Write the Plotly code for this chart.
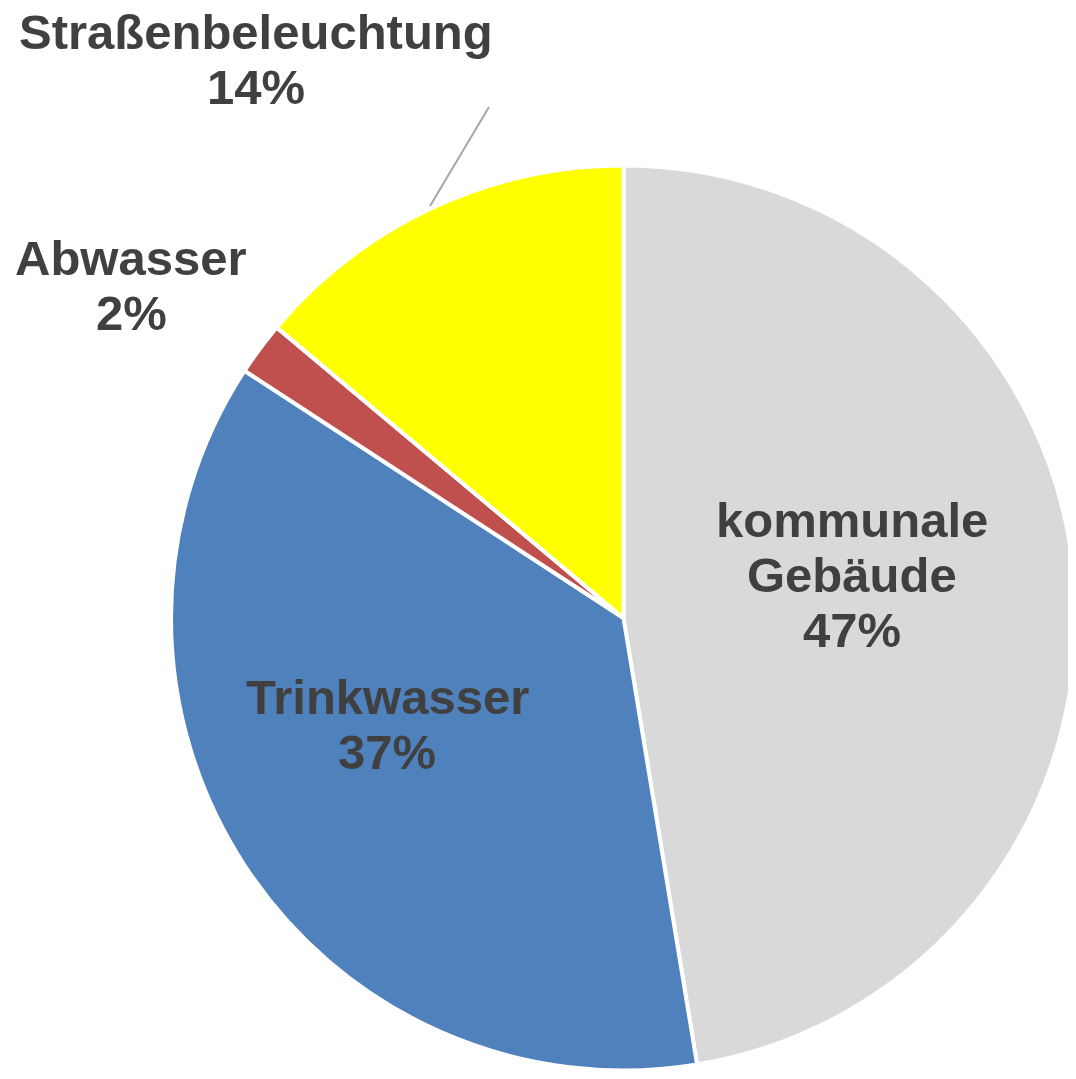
import plotly.graph_objects as go

labels = ["kommunale Gebäude", "Trinkwasser", "Abwasser", "Straßenbeleuchtung"]
label_lines = [["kommunale", "Gebäude"], ["Trinkwasser"], ["Abwasser"], ["Straßenbeleuchtung"]]
values = [47.4, 36.8, 1.9, 13.9]
colors = ["#d9d9d9", "#4f81bd", "#c0504d", "#ffff00"]

# page body has an 8px default margin; keep figure inside the viewport
OFF = 8
W, H = 1068, 1063
total = sum(values)
pcts = [f"{round(v / total * 100):d}%" for v in values]


def px(x):
    return (x - OFF) / W


def py(y):
    return 1 - (y - OFF) / H


fig = go.Figure(go.Pie(
    labels=labels,
    values=values,
    sort=False,
    direction="clockwise",
    rotation=0,
    textinfo="none",
    hoverinfo="label+percent",
    marker=dict(colors=colors, line=dict(color="white", width=4)),
    domain=dict(x=[px(171), 1.0], y=[0.0, py(165)]),
    showlegend=False,
))

# label anchor (center x, first-line cap-middle y) in screen pixels, line spacing
label_pos = [(852, 520), (387, 697), (131, 258), (256, 32)]
line_gap = 55

annotations = []
for lines, pct, (cx, cy) in zip(label_lines, pcts, label_pos):
    for i, t in enumerate(lines + [pct]):
        annotations.append(dict(
            x=px(cx), y=py(cy + i * line_gap),
            xref="paper", yref="paper",
            text=t, showarrow=False,
            xanchor="center", yanchor="middle",
            font=dict(family="Liberation Sans, Arial, sans-serif", size=49,
                      color="#404040", weight="bold"),
        ))

fig.update_layout(
    width=W, height=H,
    margin=dict(l=0, r=0, t=0, b=0),
    paper_bgcolor="white",
    plot_bgcolor="white",
    annotations=annotations,
    shapes=[dict(type="line", xref="paper", yref="paper",
                 x0=px(489), y0=py(107), x1=px(430), y1=py(206),
                 line=dict(color="#a6a6a6", width=2))],
)

fig.write_html("out.html")
